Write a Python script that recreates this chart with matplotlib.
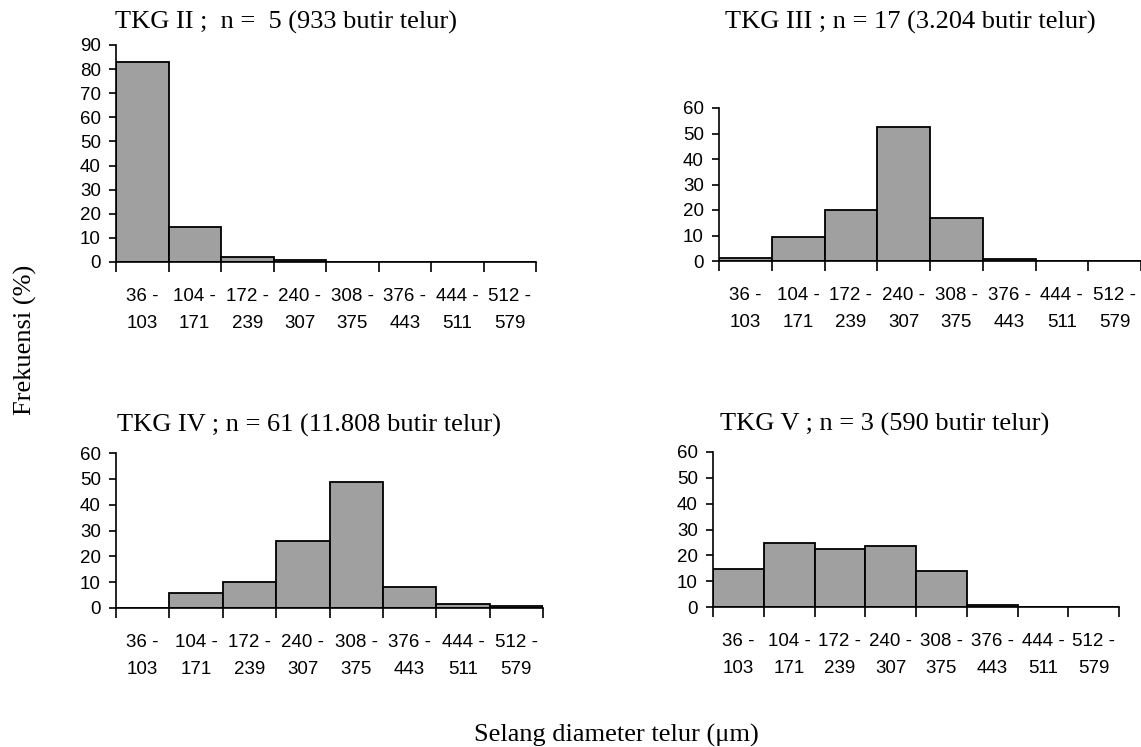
import matplotlib
matplotlib.use("Agg")
import matplotlib.pyplot as plt
import numpy as np

W, H = 1141, 747

# class intervals of egg diameter (um)
ranges = ["36 -\n103", "104 -\n171", "172 -\n239", "240 -\n307",
          "308 -\n375", "376 -\n443", "444 -\n511", "512 -\n579"]

# frequency (%) per stage
tkg2 = [82.8, 14.5, 2.1, 0.8, 0, 0, 0, 0]
tkg3 = [1.3, 9.6, 20.0, 52.5, 16.8, 0.6, 0, 0]
tkg4 = [0, 5.8, 10.0, 26.0, 48.6, 8.1, 1.4, 0.6]
tkg5 = [14.9, 24.7, 22.5, 23.6, 13.8, 0.6, 0, 0]

titles = ["TKG II ;  n =  5 (933 butir telur)",
          "TKG III ; n = 17 (3.204 butir telur)",
          "TKG IV ; n = 61 (11.808 butir telur)",
          "TKG V ; n = 3 (590 butir telur)"]

serif = "Liberation Serif"
sans = "Liberation Sans"

fig = plt.figure(figsize=(W / 100, H / 100), dpi=100)


def px_axes(left, right, top, bottom):
    return fig.add_axes([left / W, 1 - bottom / H, (right - left) / W, (bottom - top) / H])


def draw_panel(ax, values, ymax, title, title_x, title_y):
    x = np.arange(len(values))
    ax.bar(x, values, width=1.0, color="#a0a0a0", edgecolor="black", linewidth=1.3)
    ax.set_xlim(-0.5, len(values) - 0.5)
    ax.set_ylim(0, ymax)
    ax.set_yticks(np.arange(0, ymax + 1, 10))
    ax.set_xticks(np.arange(len(values) + 1) - 0.5)
    ax.set_xticklabels([])
    ax.set_xticks(x, minor=True)
    ax.set_xticklabels(ranges, minor=True, fontfamily=sans, fontsize=13.5, linespacing=1.75)
    ax.tick_params(axis="x", which="major", direction="out", length=7, width=1.2)
    ax.tick_params(axis="x", which="minor", length=0, pad=19)
    ax.tick_params(axis="y", direction="out", length=5, width=1.2, pad=6)
    for lab in ax.get_yticklabels():
        lab.set_fontfamily(sans)
        lab.set_fontsize(13.5)
    for s in ["top", "right"]:
        ax.spines[s].set_visible(False)
    for s in ["left", "bottom"]:
        ax.spines[s].set_linewidth(1.2)
    fig.text(title_x / W, 1 - title_y / H, title, fontfamily=serif, fontsize=19,
             ha="left", va="center")


ax1 = px_axes(116, 536, 45, 262)
draw_panel(ax1, tkg2, 90, titles[0], 115, 22)

ax2 = px_axes(719, 1141, 108, 261)
draw_panel(ax2, tkg3, 60, titles[1], 725, 22)

ax3 = px_axes(116, 543, 453, 608)
draw_panel(ax3, tkg4, 60, titles[2], 117, 425)

ax4 = px_axes(713, 1119, 452, 607)
draw_panel(ax4, tkg5, 60, titles[3], 720, 424)

fig.text(25 / W, 1 - 340 / H, "Frekuensi (%)", rotation=90, fontfamily=serif,
         fontsize=19, ha="center", va="center")
fig.text(616 / W, 1 - 742 / H, "Selang diameter telur (\u03bcm)", fontfamily=serif,
         fontsize=19, ha="center", va="baseline")

fig.savefig("out.png", dpi=100)
